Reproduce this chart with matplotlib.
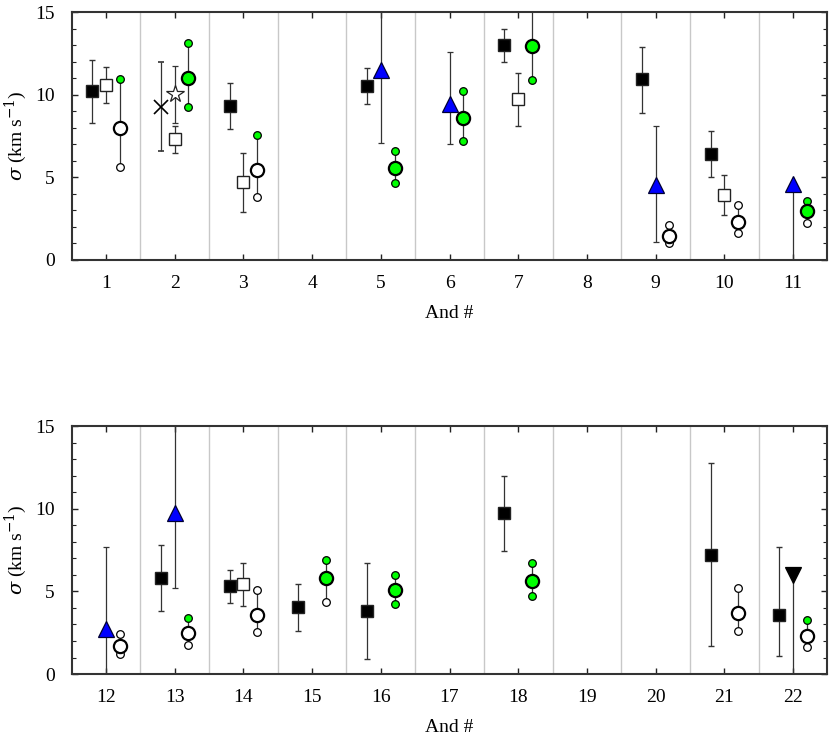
import numpy as np
import matplotlib
matplotlib.use("Agg")
import matplotlib.pyplot as plt
from matplotlib.ticker import MultipleLocator

plt.rcParams['font.family'] = ['Liberation Serif', 'DejaVu Serif']
plt.rcParams['mathtext.fontset'] = 'dejavuserif'

GREEN = '#00ff00'
BLUE = '#0000ff'

# --- data: velocity dispersions per And dwarf ---
# filled squares
sq_and = [1, 3, 5, 7, 9, 10, 13, 14, 15, 16, 18, 21, 22]
sq_val = [10.22, 9.3, 10.53, 13.0, 10.93, 6.39, 5.81, 5.34, 4.03, 3.81, 9.72, 7.22, 3.55]
sq_lo = [8.3, 7.9, 9.42, 12.0, 8.9, 5.0, 3.81, 4.31, 2.62, 0.91, 7.42, 1.71, 1.07]
sq_hi = [12.1, 10.7, 11.6, 14.0, 12.9, 7.78, 7.82, 6.31, 5.43, 6.72, 12.0, 12.75, 7.7]

# open squares
osq_and = [1, 2, 3, 7, 10, 14]
osq_val = [10.6, 7.3, 4.7, 9.72, 3.91, 5.44]
osq_lo = [9.5, 6.5, 2.9, 8.1, 2.7, 4.11]
osq_hi = [11.7, 8.1, 6.5, 11.3, 5.12, 6.73]

# cross and star (And II)
x_and, x_val, x_lo, x_hi = [2], [9.28], [6.6], [12.0]
st_and, st_val, st_lo, st_hi = [2], [10.02], [8.3], [11.76]

# blue triangles
tri_and = [5, 6, 9, 11, 12, 13]
tri_val = [11.5, 9.46, 4.54, 4.62, 2.70, 9.76]
tri_lo = [7.1, 7.0, 1.09, 0.0, 0.0, 5.22]
tri_hi = [16.0, 12.6, 8.1, 4.62, 7.7, 16.0]

# black down triangle (And XXII)
dtri_and, dtri_val, dtri_lo, dtri_hi = [22], [5.99], [0.0], [5.99]

# circles: central value with upper/lower small circles, g = green, w = white
c_and = [1, 2, 3, 5, 6, 7, 9, 10, 11, 12, 13, 14, 15, 16, 18, 21, 22]
c_val = [7.99, 11.03, 5.44, 5.55, 8.57, 12.95, 1.47, 2.32, 2.98, 1.69, 2.5, 3.59, 5.79, 5.06, 5.63, 3.69, 2.32]
c_up = [10.93, 13.1, 7.56, 6.59, 10.2, 16.0, 2.1, 3.31, 3.55, 2.42, 3.39, 5.06, 6.9, 6.01, 6.7, 5.2, 3.25]
c_low = [5.65, 9.28, 3.83, 4.66, 7.22, 10.9, 1.03, 1.65, 2.26, 1.19, 1.73, 2.54, 4.38, 4.25, 4.74, 2.62, 1.65]
c_col = ['w', 'g', 'w', 'g', 'g', 'g', 'w', 'w', 'g', 'w', 'w', 'w', 'g', 'g', 'g', 'w', 'w']
c_up_col = ['g', 'g', 'g', 'g', 'g', 'g', 'w', 'w', 'g', 'w', 'g', 'w', 'g', 'g', 'g', 'w', 'g']
c_low_col = ['w', 'g', 'w', 'g', 'g', 'g', 'w', 'w', 'w', 'w', 'w', 'w', 'w', 'g', 'g', 'w', 'w']

COLS = {'g': GREEN, 'w': 'white'}
ERR = dict(ecolor='#333333', elinewidth=0.9, capsize=2.5, capthick=0.9, ls='none')


def sel(ands, vals, first, off):
    # pick entries belonging to a panel, return x positions on that panel
    out = [[] for _ in vals]
    xs = []
    for i, a in enumerate(ands):
        if first <= a < first + 11:
            xs.append(a - first + 1 + off)
            for k, v in enumerate(vals):
                out[k].append(v[i])
    return [np.array(xs)] + [np.array(o) for o in out]


def errbar(ax, ands, val, lo, hi, first, off, **kw):
    x, v, l, h = sel(ands, [val, lo, hi], first, off)
    if len(x) == 0:
        return
    ax.errorbar(x, v, yerr=[v - l, h - v], **ERR, **kw)


fig = plt.figure(figsize=(8.3, 7.42), dpi=100)
panels = [(1, [0.0863, 0.6496, 0.9106, 0.3342]),
          (12, [0.0863, 0.0916, 0.9106, 0.3342])]

for first, rect in panels:
    ax = fig.add_axes(rect)
    ax.set_xlim(0.5, 11.5)
    ax.set_ylim(0, 15)
    for g in np.arange(1.5, 11, 1.0):
        ax.axvline(g, color='#c8c8c8', lw=1.0, zorder=0)

    errbar(ax, sq_and, sq_val, sq_lo, sq_hi, first, -0.2,
           marker='s', ms=8, mfc='black', mec='#222222', mew=1.0, zorder=4)
    errbar(ax, osq_and, osq_val, osq_lo, osq_hi, first, 0.0,
           marker='s', ms=8, mfc='white', mec='#222222', mew=1.0, zorder=4)
    errbar(ax, x_and, x_val, x_lo, x_hi, first, -0.2,
           marker='x', ms=10, mfc='black', mec='black', mew=1.2, zorder=4)
    errbar(ax, st_and, st_val, st_lo, st_hi, first, 0.0,
           marker='*', ms=13, mfc='white', mec='#222222', mew=0.9, zorder=4)
    errbar(ax, tri_and, tri_val, tri_lo, tri_hi, first, 0.0,
           marker='^', ms=11, mfc=BLUE, mec='#000033', mew=0.9, zorder=4)
    errbar(ax, dtri_and, dtri_val, dtri_lo, dtri_hi, first, 0.0,
           marker='v', ms=11, mfc='black', mec='black', mew=0.9, zorder=4)

    x, v, u, l = sel(c_and, [c_val, c_up, c_low], first, 0.2)
    _, cc, uc, lc = sel(c_and, [c_col, c_up_col, c_low_col], first, 0.2)
    for i in range(len(x)):
        ax.plot([x[i], x[i]], [l[i], u[i]], color='#333333', lw=0.9, zorder=3)
        ax.plot(x[i], u[i], 'o', ms=5.5, mfc=COLS[uc[i]], mec='black', mew=0.9, zorder=4)
        ax.plot(x[i], l[i], 'o', ms=5.5, mfc=COLS[lc[i]], mec='black', mew=0.9, zorder=4)
        ax.plot(x[i], v[i], 'o', ms=9.5, mfc=COLS[cc[i]], mec='black', mew=1.6, zorder=5)

    ax.set_xticks(range(1, 12))
    ax.set_xticklabels([str(first + k) for k in range(11)])
    ax.yaxis.set_major_locator(MultipleLocator(5))
    ax.yaxis.set_minor_locator(MultipleLocator(1))
    ax.tick_params(axis='both', which='both', direction='in', top=True, right=True,
                   color='#222222', labelsize=14)
    ax.tick_params(axis='x', which='major', length=4, width=1.0, pad=11)
    ax.tick_params(axis='y', which='major', length=4, width=1.0, pad=12)
    ax.tick_params(axis='y', which='minor', length=3, width=0.8)
    for s in ax.spines.values():
        s.set_color('#333333')
        s.set_linewidth(1.5)
    ax.set_xlabel('And #', fontsize=14, labelpad=9)
    ax.set_ylabel(r'$\sigma$ (km s$^{-1}$)', fontsize=14)
    ax.yaxis.set_label_coords(-0.056, 0.5)

fig.savefig('out.png', dpi=100)
